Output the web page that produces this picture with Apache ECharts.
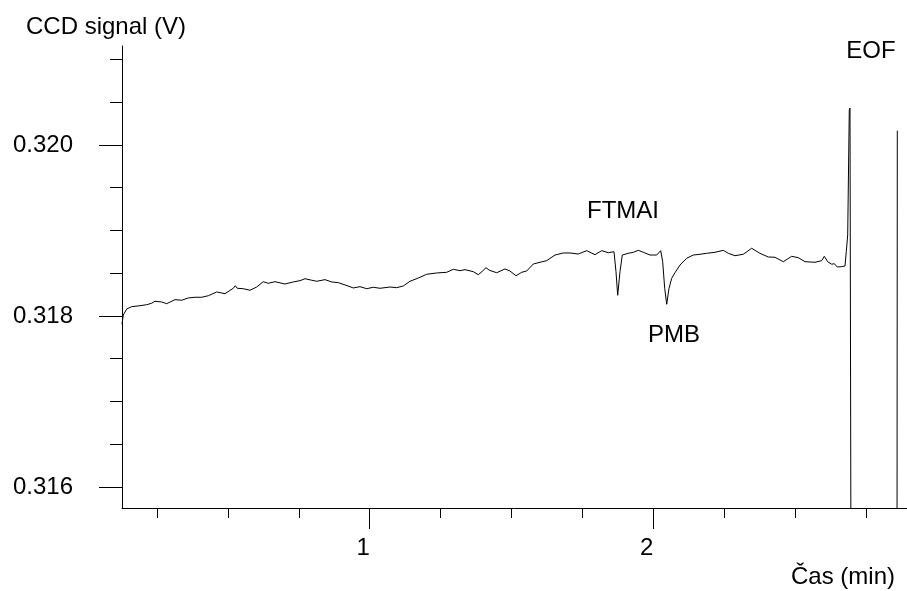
<!DOCTYPE html>
<html>
<head>
<meta charset="utf-8">
<script src="https://cdn.jsdelivr.net/npm/echarts@6/dist/echarts.min.js"></script>
<style>
  html, body { margin: 0; padding: 0; background: #ffffff; }
  #chart { width: 907px; height: 591px; }
</style>
</head>
<body>
<div id="chart"></div>
<script>
// Detector trace: time (min) and CCD signal (V)
const timeMin = [
  0.1266,0.1312,0.1432,0.1608,0.1901,0.2137,0.2313,0.2430,0.2666,0.2842,
  0.3135,0.3371,0.3604,0.3840,0.4076,0.4309,0.4605,0.4898,0.5190,0.5261,
  0.5331,0.5543,0.5779,0.6016,0.6248,0.6425,0.6661,0.7013,0.7306,0.7542,
  0.7719,0.7955,0.8131,0.8188,0.8424,0.8660,0.8893,0.9129,0.9422,0.9658,
  0.9894,1.0127,1.0363,1.0716,1.0952,1.1185,1.1421,1.1714,1.2010,1.2363,
  1.2715,1.2948,1.3184,1.3360,1.3653,1.3829,1.3970,1.4101,1.4217,1.4478,
  1.4771,1.4947,1.5159,1.5360,1.5536,1.5769,1.6005,1.6241,1.6534,1.6827,
  1.7063,1.7356,1.7652,1.7944,1.8181,1.8413,1.8614,1.8685,1.8745,1.8826,
  1.8907,1.9118,1.9295,1.9471,1.9647,1.9884,2.0120,2.0261,2.0331,2.0402,
  2.0473,2.0554,2.0649,2.0765,2.0942,2.1178,2.1410,2.1647,2.1883,2.2176,
  2.2468,2.2645,2.2881,2.3173,2.3470,2.3762,2.4055,2.4291,2.4584,2.4880,
  2.5113,2.5349,2.5702,2.5938,2.6030,2.6150,2.6291,2.6382,2.6488,2.6643,
  2.6760,2.6805,2.6855,2.6911,2.6936,2.6971,2.8594,2.8604
];
const signalV = [
  0.317903,0.318012,0.318082,0.318109,0.318120,0.318132,0.318149,0.318172,0.318164,0.318144,
  0.318191,0.318184,0.318211,0.318219,0.318219,0.318237,0.318281,0.318261,0.318324,0.318354,
  0.318324,0.318319,0.318301,0.318339,0.318401,0.318382,0.318401,0.318374,0.318398,0.318413,
  0.318436,0.318418,0.318406,0.318418,0.318425,0.318398,0.318390,0.318363,0.318328,0.318343,
  0.318319,0.318336,0.318324,0.318339,0.318331,0.318351,0.318406,0.318444,0.318488,0.318503,
  0.318511,0.318546,0.318530,0.318542,0.318518,0.318483,0.318523,0.318565,0.318535,0.318506,
  0.318550,0.318526,0.318471,0.318511,0.318526,0.318608,0.318628,0.318647,0.318713,0.318737,
  0.318737,0.318725,0.318764,0.318717,0.318764,0.318740,0.318752,0.318518,0.318242,0.318518,
  0.318713,0.318733,0.318745,0.318768,0.318745,0.318713,0.318713,0.318764,0.318635,0.318324,
  0.318137,0.318324,0.318441,0.318506,0.318596,0.318675,0.318713,0.318722,0.318733,0.318745,
  0.318768,0.318733,0.318705,0.318722,0.318792,0.318733,0.318690,0.318687,0.318635,0.318698,
  0.318682,0.318635,0.318628,0.318647,0.318698,0.318635,0.318605,0.318612,0.318573,0.318577,
  0.318585,0.318752,0.318947,0.320409,0.320433,0.315000,0.315000,0.320167
];

// Peak annotations (label, time, signal position of the label)
const peakNames   = ['FTMAI', 'PMB', 'EOF'];
const peakTimes   = [1.8932, 2.0730, 2.7676];
const peakSignals = [0.319220, 0.317778, 0.321099];

// Axis ranges and tick values
const xRange = [0.1266, 2.8946];
const yRange = [0.315754, 0.321158];
const xMajorTicks = [1, 2];
const xMinorTicks = [0.25, 0.5, 0.75, 1.25, 1.5, 1.75, 2.25, 2.5, 2.75];
const yMajorTicks = [0.316, 0.318, 0.320];
const yMinorTicks = [0.3165, 0.317, 0.3175, 0.3185, 0.319, 0.3195, 0.3205, 0.321];

const FONT = "'Liberation Sans', Arial, sans-serif";
const INK = '#000000';

const trace = timeMin.map((t, i) => [t, signalV[i]]);
const peaks = peakNames.map((n, i) => ({ name: n, value: [peakTimes[i], peakSignals[i]] }));

const chart = echarts.init(document.getElementById('chart'), null, { renderer: 'canvas' });

chart.setOption({
  animation: false,
  backgroundColor: '#ffffff',
  textStyle: { fontFamily: FONT, color: INK },
  title: [
    {
      text: 'CCD signal (V)', left: 26, top: 15, padding: 0,
      textStyle: { fontFamily: FONT, fontSize: 24, fontWeight: 'normal', color: INK }
    },
    {
      text: 'Čas (min)', right: 12, top: 565, padding: 0,
      textStyle: { fontFamily: FONT, fontSize: 24, fontWeight: 'normal', color: INK }
    }
  ],
  grid: { left: 122, right: 0, top: 46, bottom: 83, containLabel: false },
  xAxis: [
    {
      type: 'value', position: 'bottom', min: xRange[0], max: xRange[1],
      axisLine: { show: true, onZero: false, lineStyle: { color: INK, width: 1 } },
      axisTick: { show: true, customValues: xMajorTicks, length: 21, lineStyle: { color: INK, width: 1 } },
      axisLabel: {
        show: true, customValues: xMajorTicks, margin: 28, padding: [0, 13, 0, 0],
        fontFamily: FONT, fontSize: 24, color: INK, formatter: v => String(v)
      },
      splitLine: { show: false }
    },
    {
      type: 'value', position: 'bottom', min: xRange[0], max: xRange[1],
      axisLine: { show: false, onZero: false },
      axisTick: { show: true, customValues: xMinorTicks, length: 10, lineStyle: { color: INK, width: 1 } },
      axisLabel: { show: false },
      splitLine: { show: false }
    }
  ],
  yAxis: [
    {
      type: 'value', position: 'left', min: yRange[0], max: yRange[1],
      axisLine: { show: true, onZero: false, lineStyle: { color: INK, width: 1 } },
      axisTick: { show: true, customValues: yMajorTicks, length: 23, lineStyle: { color: INK, width: 1 } },
      axisLabel: {
        show: true, customValues: yMajorTicks, margin: 49,
        fontFamily: FONT, fontSize: 24, color: INK, formatter: v => v.toFixed(3)
      },
      splitLine: { show: false }
    },
    {
      type: 'value', position: 'left', min: yRange[0], max: yRange[1],
      axisLine: { show: false, onZero: false },
      axisTick: { show: true, customValues: yMinorTicks, length: 12, lineStyle: { color: INK, width: 1 } },
      axisLabel: { show: false },
      splitLine: { show: false }
    }
  ],
  series: [
    {
      type: 'line', name: 'CCD signal', xAxisIndex: 0, yAxisIndex: 0,
      data: trace, showSymbol: false, symbol: 'none', clip: true,
      lineStyle: { color: INK, width: 1 }, silent: true
    },
    {
      type: 'scatter', name: 'peaks', xAxisIndex: 0, yAxisIndex: 0,
      data: peaks, symbolSize: 0.01, silent: true,
      itemStyle: { color: 'rgba(0,0,0,0)', opacity: 1 },
      label: {
        show: true, position: 'inside', formatter: p => p.name,
        fontFamily: FONT, fontSize: 24, color: INK, opacity: 1
      }
    }
  ]
});
</script>
</body>
</html>
